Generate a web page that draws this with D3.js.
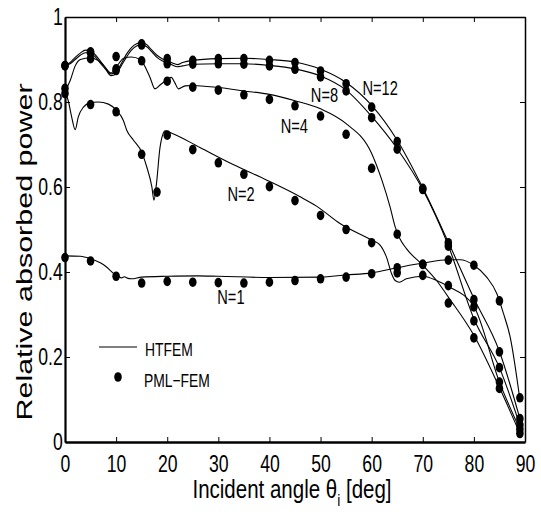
<!DOCTYPE html>
<html>
<head>
<meta charset="utf-8">
<script src="https://cdn.jsdelivr.net/npm/d3@7"></script>
<style>
  html, body { margin: 0; padding: 0; background: #fff; }
  text { font-family: "Liberation Sans", Arial, Helvetica, sans-serif; fill: #000; }
</style>
</head>
<body>
<div id="chart"></div>
<script>
// tick values / labels
const xTicks = [0, 10, 20, 30, 40, 50, 60, 70, 80, 90];
const yTicks = [0, 0.2, 0.4, 0.6, 0.8, 1];
const yTickLabels = ["0", "0.2", "0.4", "0.6", "0.8", "1"];

// PML-FEM sample angles (N=2 has an extra point near 18 deg)
const femAngles = [0, 5, 10, 15, 20, 25, 30, 35, 40, 45, 50, 55, 60, 65, 70, 75, 80, 85, 89];
const femAnglesN2 = [0, 5, 10, 15, 18, 20, 25, 30, 35, 40, 45, 50, 55, 60, 65, 70, 75, 80, 85, 89];

const femN1 = [0.434, 0.426, 0.390, 0.374, 0.378, 0.376, 0.375, 0.374, 0.376, 0.380, 0.384, 0.388, 0.396, 0.410, 0.418, 0.428, 0.416, 0.332, 0.104];
const femN2 = [0.820, 0.794, 0.777, 0.677, 0.588, 0.722, 0.688, 0.657, 0.630, 0.601, 0.568, 0.533, 0.500, 0.469, 0.398, 0.392, 0.368, 0.318, 0.141, 0.030];
const femN4 = [0.832, 0.902, 0.907, 0.897, 0.849, 0.835, 0.828, 0.817, 0.806, 0.791, 0.767, 0.724, 0.644, 0.489, 0.418, 0.327, 0.245, 0.126, 0.020];
const femN8 = [0.885, 0.916, 0.874, 0.934, 0.890, 0.889, 0.890, 0.889, 0.885, 0.877, 0.859, 0.826, 0.763, 0.689, 0.594, 0.461, 0.285, 0.175, 0.040];
const femN12 = [0.886, 0.918, 0.878, 0.937, 0.902, 0.898, 0.902, 0.902, 0.898, 0.893, 0.873, 0.843, 0.788, 0.707, 0.597, 0.469, 0.335, 0.212, 0.055];

// HTFEM curves: [angle, value]
const htN1 = [[0,0.438],[3,0.437],[5,0.431],[7,0.421],[8,0.413],[9,0.402],[10,0.392],[10.7,0.388],[11.1,0.386],[11.6,0.389],[12.3,0.385],[13,0.384],[15,0.388],[20,0.390],[26,0.391],[30,0.390],[40,0.387],[50,0.388],[55,0.393],[60,0.398],[65,0.410],[70,0.421],[75,0.429],[77.3,0.429],[80,0.416],[82.5,0.388],[84.5,0.349],[85.8,0.302],[87.1,0.247],[89,0.100]];
const htN2 = [[0,0.828],[0.7,0.80],[1.3,0.765],[2,0.735],[2.6,0.765],[3.6,0.788],[4.9,0.798],[6.5,0.800],[8.5,0.795],[10.1,0.780],[11.4,0.757],[12.1,0.733],[13.4,0.710],[15,0.682],[16,0.647],[17,0.600],[17.4,0.569],[17.9,0.608],[18.6,0.694],[19.6,0.732],[21,0.726],[26.4,0.693],[32.9,0.653],[39.5,0.616],[46,0.577],[49.2,0.555],[53.8,0.514],[60,0.475],[61.6,0.464],[62.9,0.435],[63.9,0.396],[64.6,0.380],[65.4,0.376],[66.8,0.384],[70,0.390],[72.7,0.380],[75,0.366],[80,0.319],[85,0.141],[89,0.030]];
const htN4 = [[0,0.826],[1,0.85],[2,0.885],[3,0.900],[5,0.904],[7,0.893],[9,0.868],[10,0.882],[11.5,0.903],[13,0.906],[14.7,0.900],[16.6,0.859],[17.6,0.831],[18.6,0.840],[19.8,0.851],[20.8,0.858],[21.5,0.845],[22.2,0.831],[23.5,0.838],[25,0.839],[30,0.834],[35,0.826],[40,0.818],[45,0.803],[50,0.784],[55,0.749],[60,0.679],[62,0.616],[63.6,0.553],[64.6,0.506],[65.5,0.479],[66.8,0.455],[70,0.416],[72.7,0.380],[75,0.341],[80,0.251],[85,0.128],[89,0.020]];
const htN8 = [[0,0.885],[1,0.890],[2,0.900],[3,0.910],[4,0.916],[5,0.915],[6,0.905],[7,0.890],[8,0.876],[9,0.862],[10,0.866],[11,0.885],[12,0.905],[13,0.922],[14,0.932],[15,0.935],[16,0.930],[17,0.918],[18,0.905],[19,0.897],[20,0.892],[21,0.887],[22,0.883],[23,0.885],[25,0.889],[30,0.890],[35,0.890],[40,0.886],[45,0.878],[50,0.861],[55,0.828],[60,0.766],[65,0.690],[70,0.594],[75,0.462],[80,0.290],[85,0.175],[89,0.040]];
const htN12 = [[0,0.885],[1,0.893],[2,0.905],[3,0.915],[4,0.922],[5,0.920],[6,0.910],[7,0.895],[8,0.880],[9,0.866],[10,0.872],[11,0.890],[12,0.912],[13,0.928],[14,0.937],[15,0.940],[16,0.935],[17,0.922],[18,0.910],[19,0.902],[20,0.897],[21,0.892],[22,0.888],[23,0.893],[25,0.898],[30,0.902],[35,0.903],[40,0.900],[45,0.894],[50,0.877],[55,0.846],[60,0.792],[65,0.710],[70,0.598],[75,0.470],[80,0.338],[85,0.213],[89,0.055]];

// curve labels: [text, angle, value]
const curveLabels = [["N=12", 58.2, 0.816], ["N=8", 48.1, 0.800], ["N=4", 42.2, 0.727], ["N=2", 31.8, 0.568], ["N=1", 29.8, 0.324]];

const fullWidth = 541, fullHeight = 521;
const margin = { top: 17, right: 16, bottom: 79, left: 65 };
const width = fullWidth - margin.left - margin.right;
const height = fullHeight - margin.top - margin.bottom;
const squeeze = "scale(0.75,1)";

const svg = d3.select("#chart").append("svg")
    .attr("width", fullWidth)
    .attr("height", fullHeight);

const g = svg.append("g").attr("transform", `translate(${margin.left},${margin.top})`);

const x = d3.scaleLinear().domain([0, 90]).range([0, width]);
const y = d3.scaleLinear().domain([0, 1]).range([height, 0]);

// axes, ticks pointing inward
const xAxis = g.append("g")
    .attr("transform", `translate(0,${height})`)
    .call(d3.axisBottom(x).tickValues(xTicks).tickSize(-5).tickSizeOuter(0).tickPadding(13).tickFormat(d3.format("d")));
xAxis.selectAll("text").attr("transform", squeeze).style("font-size", "23.5px");

const yAxis = g.append("g")
    .call(d3.axisLeft(y).tickValues(yTicks).tickSize(-5).tickSizeOuter(0).tickPadding(3)
        .tickFormat((d, i) => yTickLabels[i]));
yAxis.selectAll("text").attr("transform", squeeze).style("font-size", "23.5px");

g.append("g")
    .call(d3.axisTop(x).tickValues(xTicks).tickSize(-5).tickSizeOuter(0).tickFormat(""));
g.append("g")
    .attr("transform", `translate(${width},0)`)
    .call(d3.axisRight(y).tickValues(yTicks).tickSize(-5).tickSizeOuter(0).tickFormat(""));

g.selectAll(".domain").attr("stroke", "#000").attr("stroke-width", 1.5);
g.selectAll(".tick line").attr("stroke", "#000").attr("stroke-width", 1);
xAxis.select(".domain").attr("stroke-width", 2.5);
yAxis.select(".domain").attr("stroke-width", 2.2);

// HTFEM lines
const line = d3.line()
    .x(d => x(d[0]))
    .y(d => y(d[1]))
    .curve(d3.curveMonotoneX);

[htN1, htN2, htN4, htN8, htN12].forEach(s => {
    g.append("path")
        .datum(s)
        .attr("fill", "none")
        .attr("stroke", "#000")
        .attr("stroke-width", 1.1)
        .attr("d", line);
});

// PML-FEM dots
const femSets = [
    [femAngles, femN1], [femAnglesN2, femN2], [femAngles, femN4], [femAngles, femN8], [femAngles, femN12]
];
femSets.forEach(([angles, vals]) => {
    g.selectAll(null)
        .data(angles.map((a, i) => [a, vals[i]]))
        .enter()
        .append("ellipse")
        .attr("cx", d => x(d[0]))
        .attr("cy", d => y(d[1]))
        .attr("rx", 3.8)
        .attr("ry", 4.8)
        .attr("fill", "#000");
});

// curve labels
curveLabels.forEach(([t, a, v]) => {
    g.append("text")
        .attr("transform", `translate(${x(a)},${y(v)}) ${squeeze}`)
        .style("font-size", "19.5px")
        .text(t);
});

// legend
const lg = g.append("g").attr("transform", `translate(${99 - margin.left},${347 - margin.top})`);
lg.append("line").attr("x1", 0).attr("x2", 38).attr("y1", 0).attr("y2", 0)
    .attr("stroke", "#000").attr("stroke-width", 1.1);
lg.append("text").attr("transform", `translate(46,9) ${squeeze}`).style("font-size", "18.5px").text("HTFEM");
lg.append("ellipse").attr("cx", 19).attr("cy", 30).attr("rx", 3.8).attr("ry", 4.8).attr("fill", "#000");
lg.append("text").attr("transform", `translate(45,40) ${squeeze}`).style("font-size", "18.5px").text("PML\u2212FEM");

// axis titles
const xt = svg.append("text")
    .attr("transform", `translate(292,498) scale(0.82,1)`)
    .attr("text-anchor", "middle")
    .style("font-size", "25px");
xt.append("tspan").text("Incident angle \u03b8");
xt.append("tspan").attr("dy", 8).style("font-size", "17px").text("i");
xt.append("tspan").attr("dy", -8).text(" [deg]");

svg.append("text")
    .attr("transform", `translate(32,252) ${squeeze} rotate(-90)`)
    .attr("text-anchor", "middle")
    .style("font-size", "30.5px")
    .text("Relative absorbed power");
</script>
</body>
</html>
